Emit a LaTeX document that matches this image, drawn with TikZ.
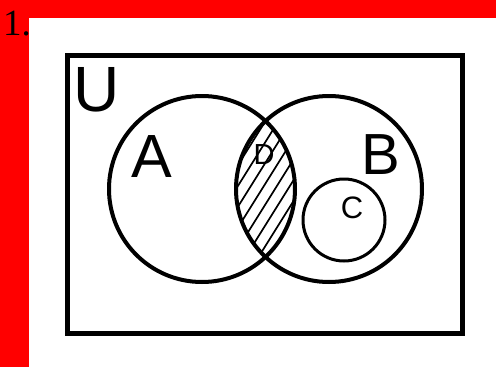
\documentclass[tikz,border=0pt]{standalone}
\usepackage{fontspec}
\setmainfont{Liberation Serif}
\newfontfamily\arialfont{Liberation Sans}
\tikzset{
  setline/.style={line width=4pt},
  lbl/.style={inner sep=0pt, anchor=base, font=\arialfont\fontsize{#1}{#1}\selectfont},
}
\begin{document}
\begin{tikzpicture}[x=1pt,y=-1pt]
\useasboundingbox (0,0) rectangle (496,367);
\fill[red] (0,0) rectangle (496,367);
\fill[white] (29,18) rectangle (496,367);
\node[inner sep=0pt, anchor=base west, font=\fontsize{37}{37}\selectfont] (num) at (3,35) {1.};
% universe
\draw[line width=5pt] (67,55) rectangle (462,333);
\coordinate (ca) at (202,189);
\coordinate (cb) at (329,189);
\coordinate (cc) at (344,220);
% hatching of the intersection
\begin{scope}
  \clip (ca) circle[radius=93pt];
  \clip (cb) circle[radius=93pt];
  \foreach \i in {-10,...,10}
    \draw[line width=1.7pt] (262+\i*13-80,317) -- (262+\i*13+80,61);
\end{scope}
\draw[setline] (ca) circle[radius=93pt];
\draw[setline] (cb) circle[radius=93pt];
\draw[line width=3pt] (cc) circle[radius=41pt];
% labels
\node[lbl=64] (u) at (97,111) {U};
\node[lbl=61] (a) at (152,177) {A};
\node[lbl=58] (b) at (381,174) {B};
\node[lbl=31] (c) at (352,218) {C};
\node[lbl=29] (d) at (264,164) {D};
\end{tikzpicture}
\end{document}
